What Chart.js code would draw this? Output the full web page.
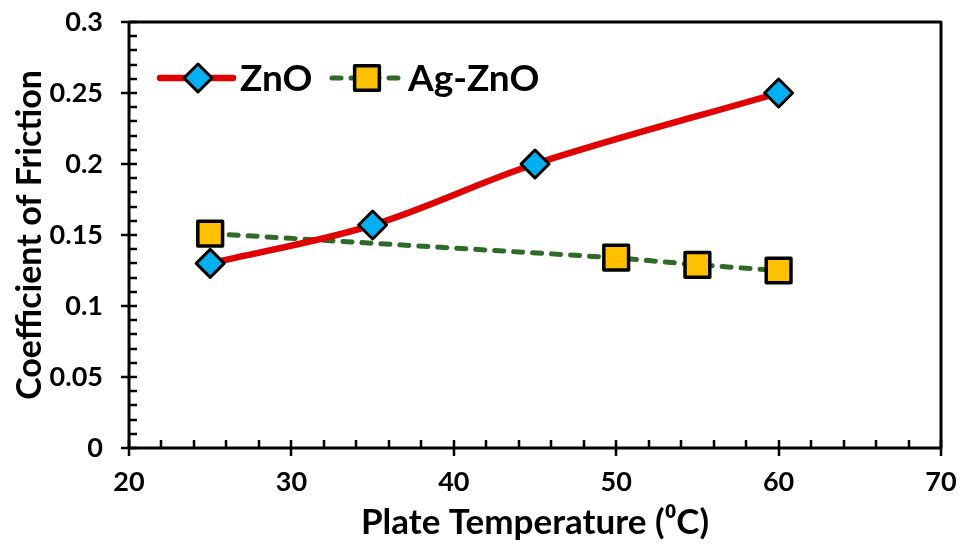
<!DOCTYPE html>
<html>
<head>
<meta charset="utf-8">
<script src="https://cdn.jsdelivr.net/npm/chart.js@4/dist/chart.umd.min.js"></script>
<style>
  html, body { margin: 0; padding: 0; background: #fff; }
  #wrap { width: 962px; height: 546px; }
</style>
</head>
<body>
<div id="wrap"><canvas id="frictionChart" width="962" height="546"></canvas></div>
<script>
// data
const znoTemps = [25, 35, 45, 60];
const znoCof = [0.130, 0.157, 0.200, 0.250];
const agTemps = [25, 50, 55, 60];
const agCof = [0.151, 0.134, 0.129, 0.125];
const seriesNames = ["ZnO", "Ag-ZnO"];

const FONT = "Lato, 'Open Sans', sans-serif";

function fmt(v) {
  return String(+v.toFixed(2));
}

// frame, tick marks and the legend
const decorations = {
  id: "decorations",
  beforeDatasetDraw(chart) {
    chart.ctx.lineJoin = "round";
  },
  afterDraw(chart) {
    const ctx = chart.ctx;
    const a = chart.chartArea;
    const xs = chart.scales.x, ys = chart.scales.y;
    ctx.save();
    ctx.strokeStyle = "#000";
    ctx.lineWidth = 3;
    ctx.strokeRect(a.left, a.top, a.right - a.left, a.bottom - a.top);

    ctx.lineWidth = 2.5;
    ctx.beginPath();
    for (let t = 20; t <= 70; t += 2) {
      const px = Math.round(xs.getPixelForValue(t));
      const major = t % 10 === 0;
      ctx.moveTo(px, a.bottom + (major ? 8 : 0));
      ctx.lineTo(px, a.bottom - 8);
    }
    for (let i = 0; i <= 30; i++) {
      const py = Math.round(ys.getPixelForValue(i / 100));
      const major = i % 5 === 0;
      ctx.moveTo(a.left - (major ? 8 : 0), py);
      ctx.lineTo(a.left + 8, py);
    }
    ctx.stroke();

    // legend inside the plot
    const ly = 78;
    const items = [
      { ds: chart.data.datasets[0], x0: 160, x1: 233, mx: 198, tx: 240 },
      { ds: chart.data.datasets[1], x0: 332, x1: 402, mx: 367, tx: 408 }
    ];
    items.forEach(it => {
      const ds = it.ds;
      ctx.save();
      ctx.strokeStyle = ds.borderColor;
      ctx.lineWidth = ds.borderWidth;
      ctx.lineCap = ds.borderCapStyle || "butt";
      ctx.setLineDash(ds.borderDash || []);
      ctx.beginPath();
      ctx.moveTo(it.x0, ly);
      ctx.lineTo(it.x1, ly);
      ctx.stroke();
      ctx.restore();
      ctx.save();
      ctx.lineJoin = "round";
      ctx.fillStyle = ds.pointBackgroundColor;
      ctx.strokeStyle = ds.pointBorderColor;
      ctx.lineWidth = ds.pointBorderWidth;
      Chart.helpers.drawPoint(ctx, {
        pointStyle: ds.pointStyle, radius: ds.pointRadius,
        rotation: 0, borderWidth: ds.pointBorderWidth
      }, it.mx, ly);
      ctx.restore();
      ctx.fillStyle = "#000";
      ctx.font = "bold 37px " + FONT;
      ctx.textBaseline = "middle";
      ctx.textAlign = "left";
      ctx.fillText(ds.label, it.tx, ly + 1);
    });
    ctx.restore();
  }
};

new Chart(document.getElementById("frictionChart").getContext("2d"), {
  type: "line",
  data: {
    datasets: [
      {
        label: seriesNames[0],
        data: znoTemps.map((t, i) => ({ x: t, y: znoCof[i] })),
        borderColor: "#e00000",
        borderWidth: 6.5,
        borderCapStyle: "round",
        tension: 0.35,
        pointStyle: "rectRot",
        pointRadius: 14,
        pointBackgroundColor: "#00b0f0",
        pointBorderColor: "#000",
        pointBorderWidth: 3
      },
      {
        label: seriesNames[1],
        data: agTemps.map((t, i) => ({ x: t, y: agCof[i] })),
        borderColor: "#2f6a2b",
        borderWidth: 5,
        borderDash: [9, 10],
        borderCapStyle: "round",
        tension: 0,
        pointStyle: "rect",
        pointRadius: 17.5,
        pointBackgroundColor: "#ffc000",
        pointBorderColor: "#000",
        pointBorderWidth: 3.5
      }
    ]
  },
  options: {
    responsive: false,
    animation: false,
    layout: { padding: { top: 22, right: 19, left: 0, bottom: 0 } },
    plugins: { legend: { display: false }, tooltip: { enabled: false } },
    scales: {
      x: {
        type: "linear",
        min: 20, max: 70,
        afterFit(scale) {
          scale.height = 98;
          scale.paddingLeft = 0;
          scale.paddingRight = 0;
        },
        grid: { display: false },
        border: { display: false },
        ticks: {
          stepSize: 10, padding: 10, color: "#000",
          font: { family: FONT, size: 27, weight: "bold" }
        },
        title: {
          display: true,
          text: "Plate Temperature (⁰C)",
          color: "#000",
          font: { family: FONT, size: 35, weight: "bold" },
          padding: { top: 4, bottom: 2 }
        }
      },
      y: {
        type: "linear",
        min: 0, max: 0.3,
        afterFit(scale) {
          scale.width = 129;
          scale.paddingTop = 0;
          scale.paddingBottom = 0;
        },
        grid: { display: false },
        border: { display: false },
        ticks: {
          stepSize: 0.05, padding: 18, color: "#000",
          font: { family: FONT, size: 27, weight: "bold" },
          callback: v => fmt(v)
        },
        title: {
          display: true,
          text: "Coefficient of Friction",
          color: "#000",
          font: { family: FONT, size: 34, weight: "bold" },
          padding: { top: 10, bottom: 4 }
        }
      }
    }
  },
  plugins: [decorations]
});
</script>
</body>
</html>
